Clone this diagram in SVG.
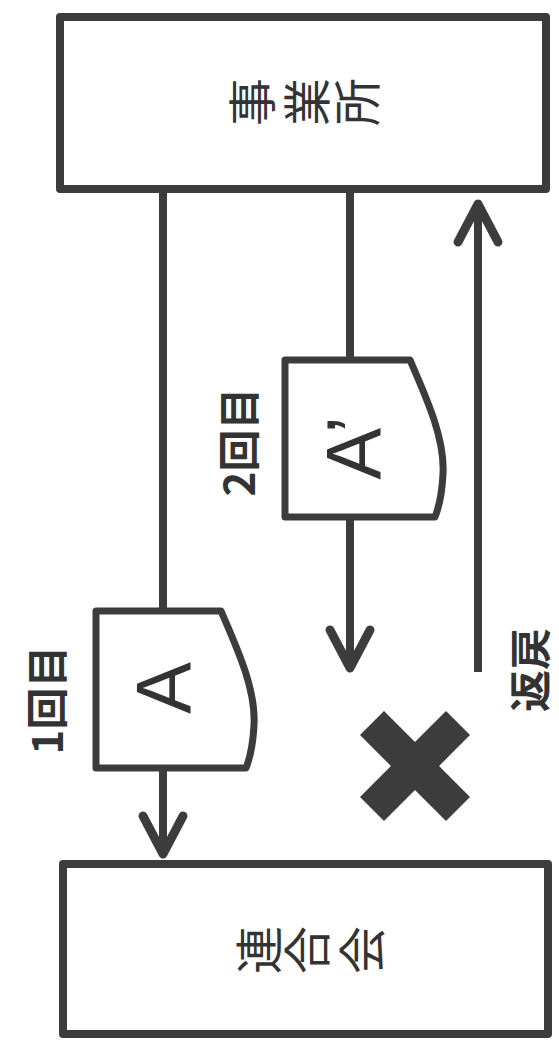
<svg xmlns="http://www.w3.org/2000/svg" width="559" height="1042" viewBox="0 0 559 1042">
<style>
.box{fill:#fff;stroke:#3c3c3c;stroke-width:8;stroke-linejoin:round}
.doc{fill:#fff;stroke:#3c3c3c;stroke-width:7;stroke-linejoin:round}
.ln{fill:none;stroke:#3c3c3c;stroke-width:8}
.cjk{font-family:"Noto Sans CJK JP","Noto Sans CJK SC",sans-serif;fill:#333;text-anchor:middle;dominant-baseline:central}
.lat{font-family:"Liberation Sans",Arial,sans-serif;fill:#333;text-anchor:middle;dominant-baseline:central}
</style>
<defs>
<marker id="chev" markerUnits="userSpaceOnUse" markerWidth="60" markerHeight="60" refX="0" refY="0" orient="auto" overflow="visible">
<path d="M-38,-20 L0,0 L-38,20" fill="none" stroke="#3c3c3c" stroke-width="9" stroke-linecap="round" stroke-linejoin="round"/>
</marker>
</defs>
<rect width="559" height="1042" fill="#fff"/>
<g id="connectors">
<line class="ln" x1="163" y1="189" x2="163" y2="611"/>
<line class="ln" x1="163" y1="768" x2="163" y2="854" marker-end="url(#chev)"/>
<line class="ln" x1="350" y1="189" x2="350" y2="360"/>
<line class="ln" x1="350" y1="518" x2="350" y2="668" marker-end="url(#chev)"/>
<line class="ln" x1="478" y1="672" x2="478" y2="204" marker-end="url(#chev)"/>
</g>
<g id="office">
<rect class="box" x="60" y="17" width="486" height="172"/>
<text class="cjk" font-size="48" transform="translate(249,102) rotate(-90)">事</text>
<text class="cjk" font-size="48" transform="translate(304,102) rotate(-90)">業</text>
<text class="cjk" font-size="48" transform="translate(354,102) rotate(-90)">所</text>
</g>
<g id="federation">
<rect class="box" x="63" y="864" width="485" height="170"/>
<text class="cjk" font-size="48" transform="translate(256,950) rotate(-90)">連</text>
<text class="cjk" font-size="48" transform="translate(304,950) rotate(-90)">合</text>
<text class="cjk" font-size="48" transform="translate(359,950) rotate(-90)">会</text>
</g>
<g id="docA">
<path class="doc" d="M96,611 L221,611 C238,650 256,690 254,725 C253,745 250,758 246,768 L96,768 Z"/>
<text class="lat" font-size="78" transform="translate(164,688) rotate(-90)">A</text>
</g>
<g id="docA2">
<path class="doc" transform="translate(189,-251)" d="M96,611 L221,611 C238,650 256,690 254,725 C253,745 250,758 246,768 L96,768 Z"/>
<text class="lat" font-size="78" transform="translate(354,448) rotate(-90)">A’</text>
</g>
<g id="label1">
<text class="cjk" font-size="42" font-weight="bold" transform="translate(44,700) rotate(-90)">1回目</text>
</g>
<g id="label2">
<text class="cjk" font-size="42" font-weight="bold" transform="translate(236,442) rotate(-90)">2回目</text>
</g>
<g id="label3">
<text class="cjk" font-size="42" font-weight="bold" transform="translate(527,670) rotate(-90)">返戻</text>
</g>
<g id="cross">
<line x1="372" y1="723" x2="458" y2="809" stroke="#3c3c3c" stroke-width="34"/>
<line x1="458" y1="723" x2="372" y2="809" stroke="#3c3c3c" stroke-width="34"/>
</g>
</svg>
